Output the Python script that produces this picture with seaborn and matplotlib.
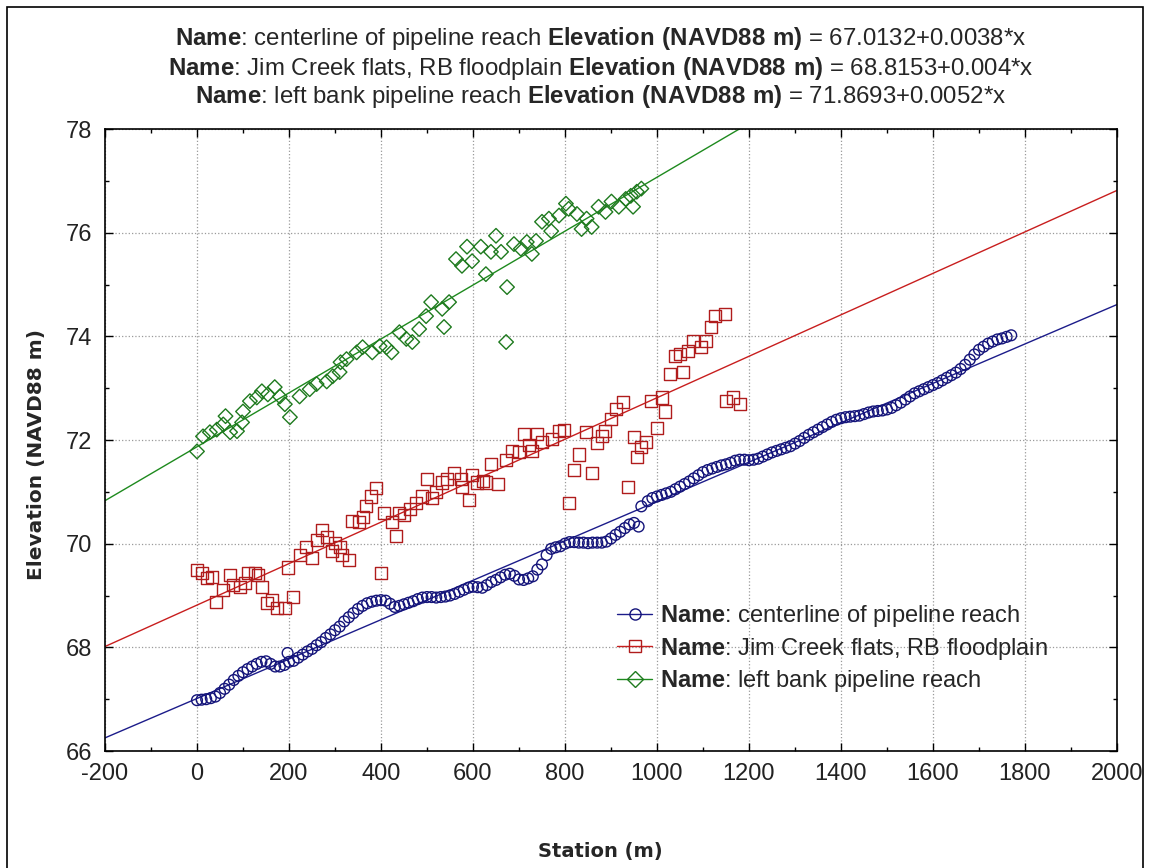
import numpy as np
import pandas as pd
import matplotlib
matplotlib.use("Agg")
import matplotlib.pyplot as plt
from matplotlib.lines import Line2D
from matplotlib.patches import Rectangle
from matplotlib.ticker import MultipleLocator
import seaborn as sns

# ---------------- data ----------------
series_names = ["centerline of pipeline reach",
                "Jim Creek flats, RB floodplain",
                "left bank pipeline reach"]
intercepts = [67.0132, 68.8153, 71.8693]
slopes = [0.0038, 0.004, 0.0052]
slope_labels = ["0.0038", "0.004", "0.0052"]

blue_station = [0, 10, 20, 30, 40, 50, 60, 70, 80, 90, 100, 110, 120, 130, 140, 150, 160, 170, 180, 190,
                197, 200, 210, 220, 230, 240, 250, 260, 270, 280, 290, 300, 310, 320, 330, 340, 350, 360, 370, 380,
                390, 400, 410, 420, 430, 440, 450, 460, 470, 480, 490, 500, 510, 520, 530, 540, 550, 560, 570, 580,
                590, 600, 610, 620, 630, 640, 650, 660, 670, 680, 690, 700, 710, 720, 730, 740, 750, 760, 770, 780,
                790, 800, 810, 820, 830, 840, 850, 860, 870, 880, 890, 900, 910, 920, 930, 940, 950, 960, 966, 980,
                990, 1000, 1010, 1020, 1030, 1040, 1050, 1060, 1070, 1080, 1090, 1100, 1110, 1120, 1130, 1140, 1150,
                1160, 1170, 1180, 1190, 1200, 1210, 1220, 1230, 1240, 1250, 1260, 1270, 1280, 1290, 1300, 1310, 1320,
                1330, 1340, 1350, 1360, 1370, 1380, 1390, 1400, 1410, 1420, 1430, 1440, 1450, 1460, 1470, 1480, 1490,
                1500, 1510, 1520, 1530, 1540, 1550, 1560, 1570, 1580, 1590, 1600, 1610, 1620, 1630, 1640, 1650, 1660,
                1670, 1680, 1690, 1700, 1710, 1720, 1730, 1740, 1750, 1760, 1770]
blue_elev = [66.98, 66.99, 67.00, 67.02, 67.05, 67.12, 67.20, 67.28, 67.37, 67.45, 67.52, 67.58, 67.63, 67.68, 67.72,
             67.73, 67.68, 67.63, 67.63, 67.66, 67.89, 67.72, 67.74, 67.80, 67.86, 67.92, 67.97, 68.04, 68.10, 68.18,
             68.25, 68.33, 68.40, 68.50, 68.58, 68.66, 68.74, 68.80, 68.85, 68.88, 68.90, 68.91, 68.90, 68.84, 68.78,
             68.80, 68.83, 68.86, 68.89, 68.93, 68.96, 68.97, 68.97, 68.96, 68.97, 68.98, 69.00, 69.03, 69.07, 69.11,
             69.15, 69.17, 69.16, 69.15, 69.20, 69.26, 69.30, 69.35, 69.40, 69.42, 69.38, 69.31, 69.30, 69.33, 69.37,
             69.50, 69.60, 69.78, 69.90, 69.93, 69.95, 70.00, 70.03, 70.03, 70.02, 70.02, 70.01, 70.02, 70.02, 70.02,
             70.04, 70.10, 70.17, 70.23, 70.30, 70.37, 70.40, 70.33, 70.72, 70.82, 70.88, 70.91, 70.94, 70.97, 71.00,
             71.05, 71.10, 71.15, 71.20, 71.26, 71.32, 71.38, 71.42, 71.45, 71.48, 71.51, 71.53, 71.56, 71.60, 71.62,
             71.62, 71.61, 71.62, 71.64, 71.68, 71.72, 71.76, 71.79, 71.82, 71.85, 71.88, 71.93, 71.98, 72.04, 72.10,
             72.15, 72.20, 72.25, 72.30, 72.35, 72.39, 72.42, 72.44, 72.45, 72.46, 72.47, 72.50, 72.53, 72.55, 72.56,
             72.57, 72.59, 72.62, 72.67, 72.72, 72.78, 72.84, 72.90, 72.94, 72.98, 73.02, 73.06, 73.10, 73.15, 73.20,
             73.25, 73.30, 73.37, 73.45, 73.55, 73.65, 73.74, 73.80, 73.86, 73.90, 73.94, 73.96, 73.99, 74.02]

red_station = [0, 11, 22, 33, 41, 57, 72, 78, 93, 104, 111, 126, 132, 141, 152, 163, 173, 191, 197, 208,
               223, 238, 251, 260, 271, 282, 293, 299, 310, 316, 331, 338, 353, 360, 368, 379, 390, 401, 407, 423,
               433, 440, 451, 462, 477, 490, 501, 511, 520, 533, 544, 559, 574, 576, 592, 598, 609, 622, 628, 640,
               655, 672, 685, 700, 711, 722, 728, 739, 750, 771, 787, 797, 808, 819, 830, 845, 858, 869, 880, 888,
               899, 910, 927, 938, 949, 956, 966, 977, 986, 999, 1010, 1018, 1029, 1040, 1051, 1057, 1068, 1079, 1096,
               1107, 1118, 1127, 1148, 1151, 1166, 1181]
red_elev = [69.50, 69.44, 69.34, 69.36, 68.88, 69.11, 69.40, 69.21, 69.17, 69.25, 69.44, 69.44, 69.40, 69.17, 68.86,
            68.92, 68.76, 68.76, 69.54, 68.97, 69.79, 69.94, 69.73, 70.08, 70.27, 70.12, 69.85, 70.02, 69.94, 69.79,
            69.69, 70.43, 70.41, 70.52, 70.72, 70.91, 71.08, 69.44, 70.60, 70.41, 70.14, 70.60, 70.56, 70.66, 70.79,
            70.91, 71.24, 70.89, 70.99, 71.18, 71.24, 71.37, 71.24, 71.10, 70.85, 71.33, 71.18, 71.20, 71.18, 71.53,
            71.16, 71.62, 71.78, 71.76, 72.11, 71.91, 71.78, 72.11, 71.97, 72.01, 72.17, 72.20, 70.79, 71.43, 71.72,
            72.15, 71.37, 71.95, 72.07, 72.17, 72.40, 72.59, 72.73, 71.10, 72.05, 71.68, 71.86, 71.97, 72.75, 72.24,
            72.82, 72.55, 73.27, 73.62, 73.66, 73.31, 73.71, 73.91, 73.79, 73.91, 74.18, 74.39, 74.43, 72.75, 72.82,
            72.69]

green_station = [0, 13, 28, 43, 57, 62, 72, 87, 98, 100, 115, 130, 141, 154, 169, 180, 191, 202, 223, 245,
                 260, 282, 295, 310, 312, 325, 347, 360, 381, 397, 412, 423, 440, 455, 468, 483, 498, 509, 533, 537,
                 548, 563, 576, 587, 598, 617, 628, 639, 650, 661, 672, 674, 689, 704, 717, 728, 737, 750, 765, 770,
                 787, 802, 808, 826, 836, 847, 858, 873, 888, 901, 917, 932, 943, 948, 956, 966]
green_elev = [71.78, 72.07, 72.15, 72.20, 72.30, 72.46, 72.15, 72.17, 72.34, 72.55, 72.75, 72.82, 72.94, 72.88, 73.02,
              72.84, 72.69, 72.44, 72.84, 72.98, 73.08, 73.13, 73.23, 73.31, 73.50, 73.56, 73.69, 73.79, 73.69, 73.81,
              73.79, 73.69, 74.08, 73.95, 73.89, 74.14, 74.39, 74.66, 74.53, 74.18, 74.66, 75.49, 75.36, 75.73, 75.45,
              75.73, 75.20, 75.63, 75.94, 75.63, 73.89, 74.95, 75.78, 75.69, 75.82, 75.59, 75.84, 76.21, 76.27, 76.03,
              76.33, 76.56, 76.46, 76.36, 76.07, 76.27, 76.11, 76.50, 76.40, 76.60, 76.50, 76.65, 76.71, 76.50, 76.79,
              76.85]

x_ticks = [-200, 0, 200, 400, 600, 800, 1000, 1200, 1400, 1600, 1800, 2000]
y_ticks = [66, 68, 70, 72, 74, 76, 78]

# ---------------- styling ----------------
sns.set_theme(style="white")
plt.rcParams["font.family"] = ["Liberation Sans", "DejaVu Sans"]
plt.rcParams["mathtext.fontset"] = "custom"
plt.rcParams["mathtext.rm"] = "Liberation Sans"
plt.rcParams["mathtext.bf"] = "Liberation Sans:bold"
plt.rcParams["axes.unicode_minus"] = False

W, H = 1151, 868
line_colors = ["#1c1c8a", "#c81e1e", "#1e8a1e"]
marker_colors = ["#14147a", "#b01c1c", "#1e7a1e"]
markers = ["o", "s", "D"]
marker_sizes = [60, 75, 55]
TXT = 17

fig = plt.figure(figsize=(W / 100, H / 100), dpi=100)
ax = fig.add_axes([105 / W, 1 - 751 / H, 1012 / W, 622 / H])

xs = [blue_station, red_station, green_station]
ys = [blue_elev, red_elev, green_elev]

x_line = np.array([x_ticks[0], x_ticks[-1]], dtype=float)
for i in range(3):
    sns.lineplot(x=x_line, y=intercepts[i] + slopes[i] * x_line, ax=ax,
                 color=line_colors[i], lw=1.0, zorder=2)
for i in range(3):
    sns.scatterplot(x=xs[i], y=ys[i], ax=ax, marker=markers[i], s=marker_sizes[i],
                    color=marker_colors[i], facecolor="none", edgecolor=marker_colors[i],
                    linewidth=1.0, zorder=3)

ax.set_xlim(x_ticks[0], x_ticks[-1])
ax.set_ylim(y_ticks[0], y_ticks[-1])
ax.set_xticks(x_ticks)
ax.set_yticks(y_ticks)
ax.xaxis.set_minor_locator(MultipleLocator(100))
ax.yaxis.set_minor_locator(MultipleLocator(1))
ax.tick_params(which="both", direction="in", top=True, right=True, bottom=True, left=True,
               color="black", width=1)
ax.tick_params(which="major", length=6, labelsize=TXT, pad=9)
ax.tick_params(which="minor", length=3)
for lab in ax.get_xticklabels() + ax.get_yticklabels():
    lab.set_color("#222222")
ax.grid(True, which="major", linestyle=":", color="#9a9a9a", linewidth=0.9)
for sp in ax.spines.values():
    sp.set_color("black")
    sp.set_linewidth(1.2)

ax.set_xlabel("Station (m)", fontsize=14, fontweight="bold", family="DejaVu Sans", va="center")
ax.set_ylabel("Elevation (NAVD88 m)", fontsize=14.5, fontweight="bold", family="DejaVu Sans", va="center")
ax.xaxis.set_label_coords((600 - 105) / 1012, (751 - 852) / 622)
ax.yaxis.set_label_coords((37 - 105) / 1012, (751 - 455) / 622)

# title lines
title_lines = []
for i in range(3):
    title_lines.append(r"$\bf{Name}$: " + series_names[i] + r" $\bf{Elevation\ (NAVD88\ m)}$ = "
                       + f"{intercepts[i]}+{slope_labels[i]}*x")
for i, t in enumerate(title_lines):
    fig.text(601 / W, 1 - (39 + 29 * i) / H, t, ha="center", va="center", fontsize=17.3)

# legend
handles = [Line2D([0], [0], color=line_colors[i], lw=1, marker=markers[i],
                  markerfacecolor="none", markeredgecolor=marker_colors[i],
                  markersize=8) for i in range(3)]
labels = [r"$\bf{Name}$: " + n for n in series_names]
ax.legend(handles, labels, loc="upper left", bbox_to_anchor=((617 - 105) / 1012, (751 - 603) / 622),
          frameon=False, fontsize=TXT, handlelength=1.5, handletextpad=0.3, labelspacing=0.28,
          borderaxespad=0, borderpad=0)

# outer frame (bottom edge falls outside the image, as in the reference)
fig.patches.append(Rectangle((7 / W, -0.02), 1136 / W, 1.02 - 7 / H, transform=fig.transFigure,
                             fill=False, edgecolor="black", linewidth=1.2))

fig.savefig("out.png", dpi=100)
